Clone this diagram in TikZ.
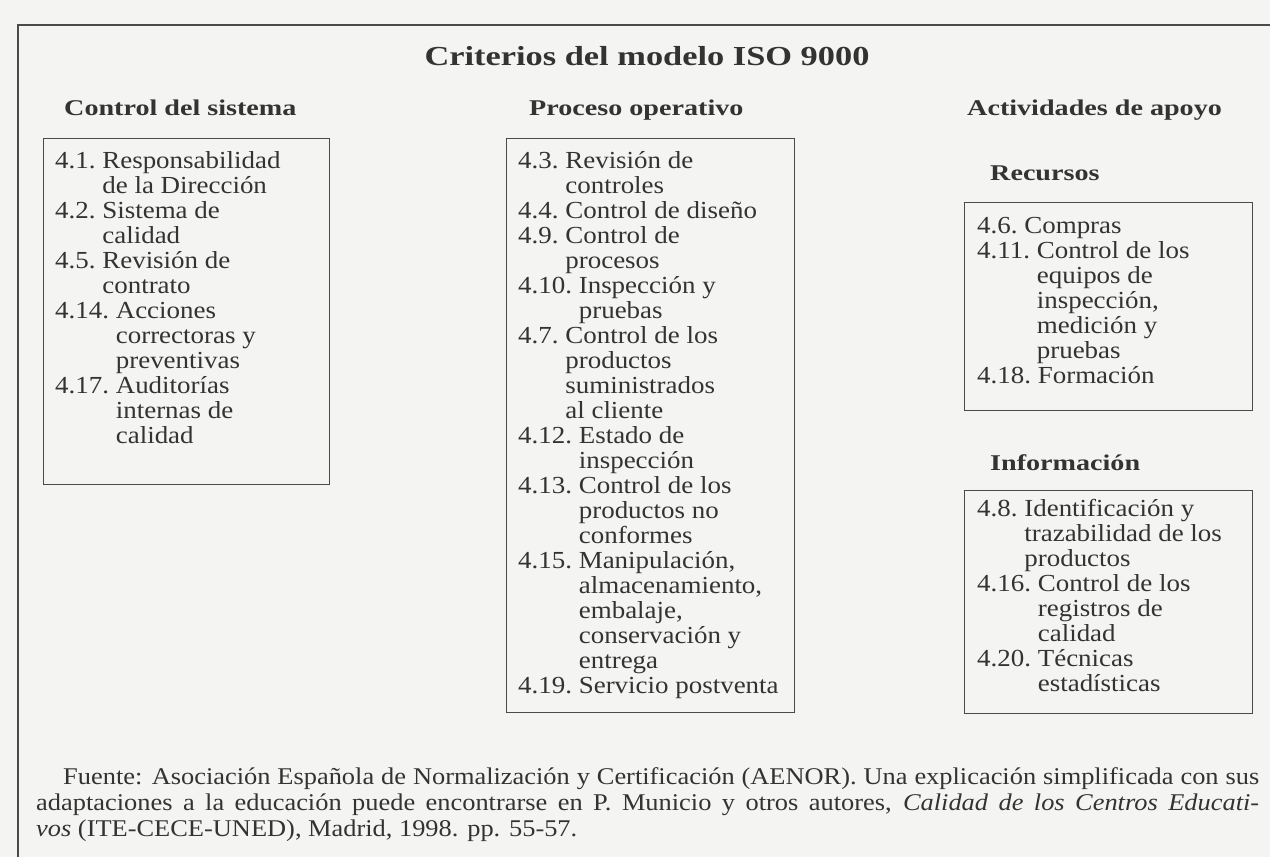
\documentclass[tikz,border=0pt]{standalone}
\usepackage{fontspec}
\setmainfont{Liberation Serif}[FakeStretch=1.1]
\newfontfamily\headfont{Liberation Serif}[FakeStretch=1.25]
\definecolor{ink}{HTML}{333333}
\definecolor{rulec}{HTML}{4A4A4A}
\definecolor{paper}{HTML}{F4F4F2}
\newcommand{\itm}[2]{#1\ \begin{tabular}[t]{@{}l@{}}#2\end{tabular}}
\begin{document}
\begin{tikzpicture}[x=1pt,y=-1pt,
  body/.style={inner sep=0pt, anchor=base west, text=ink, font=\fontsize{24.5}{25}\selectfont},
  head/.style={inner sep=0pt, anchor=base west, text=ink, font=\headfont\bfseries\fontsize{22.5}{25}\selectfont},
  titlestyle/.style={inner sep=0pt, anchor=base, text=ink, font=\headfont\bfseries\fontsize{27.5}{30}\selectfont},
  foot/.style={inner sep=0pt, anchor=base west, text=ink, font=\fontsize{24}{26}\selectfont},
  box/.style={draw=rulec, line width=1.3pt, anchor=north west, inner sep=0pt},
]
\useasboundingbox (0,0) rectangle (1270,857);
\fill[paper] (0,0) rectangle (1270,857);
% outer frame
\draw[rulec, line width=1.8pt] (1270,25) -- (18,25) -- (18,857);

% title and headings
\node[titlestyle] (title) at (647,65) {Criterios del modelo ISO 9000};
\node[head] (h1) at (64,115) {Control del sistema};
\node[head] (h2) at (529,115) {Proceso operativo};
\node[head] (h3) at (967,115) {Actividades de apoyo};
\node[head] (h4) at (990,180) {Recursos};
\node[head] (h5) at (990,470) {Información};

% boxes
\node[box, minimum width=286pt, minimum height=346pt] (b1) at (43,138) {};
\node[box, minimum width=288pt, minimum height=574pt] (b2) at (506,138) {};
\node[box, minimum width=288pt, minimum height=208pt] (b3) at (964,202) {};
\node[box, minimum width=288pt, minimum height=223pt] (b4) at (964,490) {};

% box 1 items
\node[body] (i41) at (55,168) {\itm{4.1.}{Responsabilidad\\de la Dirección}};
\node[body] (i42) at (55,218) {\itm{4.2.}{Sistema de\\calidad}};
\node[body] (i45) at (55,268) {\itm{4.5.}{Revisión de\\contrato}};
\node[body] (i414) at (55,318) {\itm{4.14.}{Acciones\\correctoras y\\preventivas}};
\node[body] (i417) at (55,393) {\itm{4.17.}{Auditorías\\internas de\\calidad}};

% box 2 items
\node[body] (i43) at (518,168) {\itm{4.3.}{Revisión de\\controles}};
\node[body] (i44) at (518,218) {\itm{4.4.}{Control de diseño}};
\node[body] (i49) at (518,243) {\itm{4.9.}{Control de\\procesos}};
\node[body] (i410) at (518,293) {\itm{4.10.}{Inspección y\\pruebas}};
\node[body] (i47) at (518,343) {\itm{4.7.}{Control de los\\productos\\suministrados\\al cliente}};
\node[body] (i412) at (518,443) {\itm{4.12.}{Estado de\\inspección}};
\node[body] (i413) at (518,493) {\itm{4.13.}{Control de los\\productos no\\conformes}};
\node[body] (i415) at (518,568) {\itm{4.15.}{Manipulación,\\almacenamiento,\\embalaje,\\conservación y\\entrega}};
\node[body] (i419) at (518,693) {\itm{4.19.}{Servicio postventa}};

% box 3 items
\node[body] (i46) at (977,233) {\itm{4.6.}{Compras}};
\node[body] (i411) at (977,258) {\itm{4.11.}{Control de los\\equipos de\\inspección,\\medición y\\pruebas}};
\node[body] (i418) at (977,383) {\itm{4.18.}{Formación}};

% box 4 items
\node[body] (i48) at (977,516) {\itm{4.8.}{Identificación y\\trazabilidad de los\\productos}};
\node[body] (i416) at (977,591) {\itm{4.16.}{Control de los\\registros de\\calidad}};
\node[body] (i420) at (977,666) {\itm{4.20.}{Técnicas\\estadísticas}};

% footer
\node[foot] (f1) at (63,784) {\makebox[1196pt][s]{Fuente: Asociación Española de Normalización y Certificación (AENOR). Una explicación simplificada con sus}};
\node[foot] (f2) at (36,810) {\makebox[1223pt][s]{adaptaciones a la educación puede encontrarse en P. Municio y otros autores, \textit{Calidad de los Centros Educati-}}};
\node[foot] (f3) at (36,836) {\textit{vos} (ITE-CECE-UNED), Madrid, 1998. pp. 55-57.};
\end{tikzpicture}
\end{document}
